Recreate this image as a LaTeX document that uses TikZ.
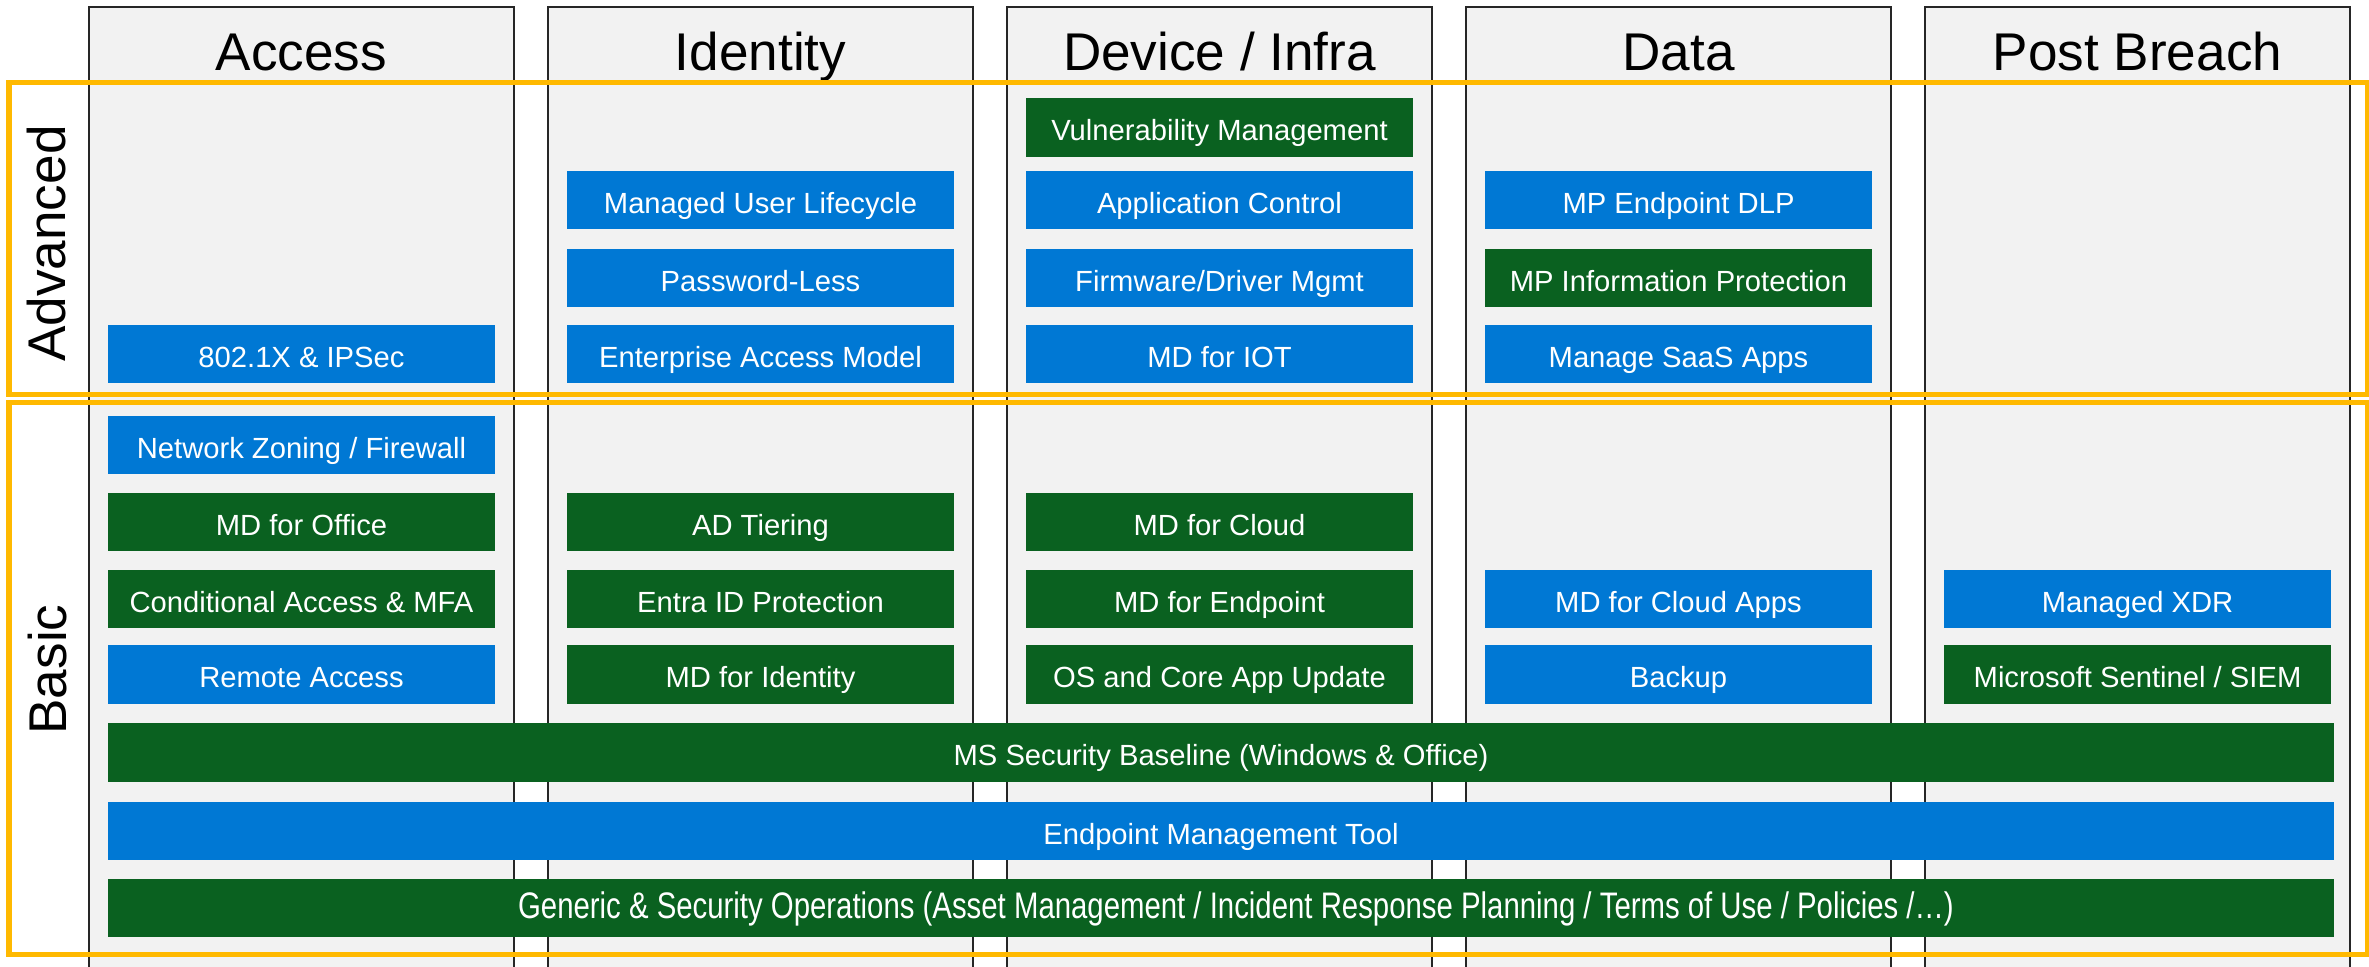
\documentclass[tikz,border=0pt]{standalone}
\usepackage{fontspec}
\setmainfont{Liberation Sans}
\definecolor{msblue}{RGB}{0,120,212}
\definecolor{msgreen}{RGB}{10,97,32}
\definecolor{colgray}{RGB}{242,242,242}
\definecolor{frameorange}{RGB}{255,185,0}
\begin{document}
\begin{tikzpicture}[x=0.01cm,y=-0.01cm,
  bluebox/.style={fill=msblue,text=white,minimum width=3.86cm,minimum height=0.585cm,inner sep=0pt,
    text height=7.4pt,text depth=0pt,font=\fontsize{8.3}{10}\selectfont},
  greenbox/.style={bluebox,fill=msgreen},
  widebox/.style={minimum width=22.24cm},
  coltitle/.style={font=\fontsize{15.1}{18}\selectfont,anchor=base,inner sep=0pt},
  levelframe/.style={draw=frameorange,line width=0.05cm}]
  \useasboundingbox (0,0) rectangle (2369,966);
  \clip (0,0) rectangle (2369,966);
  \pgfmathsetmacro{\colleft}{89}
  \pgfmathsetmacro{\colw}{425}
  \pgfmathsetmacro{\pas}{459}
  \pgfmathsetmacro{\cx}{\colleft+\colw/2}
  \pgfmathsetmacro{\advA}{127.5}
  \pgfmathsetmacro{\advB}{200}
  \pgfmathsetmacro{\advC}{278}
  \pgfmathsetmacro{\advD}{354}
  \pgfmathsetmacro{\basA}{445}
  \pgfmathsetmacro{\basB}{522}
  \pgfmathsetmacro{\basC}{599}
  \pgfmathsetmacro{\basD}{674.5}
  \foreach \i/\titre in {0/Access,1/Identity,2/{Device / Infra},3/Data,4/Post Breach} {
    \draw[fill=colgray,draw=black!85,line width=0.015cm] (\colleft+\i*\pas,7) rectangle (\colleft+\i*\pas+\colw,1000);
    \node[coltitle] (head\i) at (\cx+\i*\pas,70) {\titre};
  }
  \draw[levelframe] (9,82.7) rectangle (2367,394);
  \draw[levelframe] (9,402.5) rectangle (2367,954);
  \node[coltitle,rotate=90] (advanced) at (65,243.5) {Advanced};
  \node[coltitle,rotate=90] (basic) at (66,669.5) {Basic};
  \node[bluebox] (acc-ipsec) at (\cx,\advD) {802.1X \& IPSec};
  \node[bluebox] (acc-zoning) at (\cx,\basA) {Network Zoning / Firewall};
  \node[greenbox] (acc-office) at (\cx,\basB) {MD for Office};
  \node[greenbox] (acc-mfa) at (\cx,\basC) {Conditional Access \& MFA};
  \node[bluebox] (acc-remote) at (\cx,\basD) {Remote Access};
  \node[bluebox] (id-lifecycle) at (\cx+\pas,\advB) {Managed User Lifecycle};
  \node[bluebox] (id-pwless) at (\cx+\pas,\advC) {Password-Less};
  \node[bluebox] (id-eam) at (\cx+\pas,\advD) {Enterprise Access Model};
  \node[greenbox] (id-tiering) at (\cx+\pas,\basB) {AD Tiering};
  \node[greenbox] (id-protect) at (\cx+\pas,\basC) {Entra ID Protection};
  \node[greenbox] (id-mdi) at (\cx+\pas,\basD) {MD for Identity};
  \node[greenbox] (dev-vuln) at (\cx+2*\pas,\advA) {Vulnerability Management};
  \node[bluebox] (dev-appctl) at (\cx+2*\pas,\advB) {Application Control};
  \node[bluebox] (dev-fw) at (\cx+2*\pas,\advC) {Firmware/Driver Mgmt};
  \node[bluebox] (dev-iot) at (\cx+2*\pas,\advD) {MD for IOT};
  \node[greenbox] (dev-cloud) at (\cx+2*\pas,\basB) {MD for Cloud};
  \node[greenbox] (dev-mde) at (\cx+2*\pas,\basC) {MD for Endpoint};
  \node[greenbox] (dev-update) at (\cx+2*\pas,\basD) {OS and Core App Update};
  \node[bluebox] (data-dlp) at (\cx+3*\pas,\advB) {MP Endpoint DLP};
  \node[greenbox] (data-mip) at (\cx+3*\pas,\advC) {MP Information Protection};
  \node[bluebox] (data-saas) at (\cx+3*\pas,\advD) {Manage SaaS Apps};
  \node[bluebox] (data-mdca) at (\cx+3*\pas,\basC) {MD for Cloud Apps};
  \node[bluebox] (data-backup) at (\cx+3*\pas,\basD) {Backup};
  \node[bluebox] (pb-xdr) at (\cx+4*\pas,\basC) {Managed XDR};
  \node[greenbox] (pb-siem) at (\cx+4*\pas,\basD) {Microsoft Sentinel / SIEM};
  \node[greenbox,widebox] (baseline) at (1221,752.5) {MS Security Baseline (Windows \& Office)};
  \node[bluebox,widebox] (epm) at (1221,831) {Endpoint Management Tool};
  \node[greenbox,widebox,text height=6.1pt] (secops) at (1221,908) {\hspace*{0.3cm}\scalebox{0.795}[1]{\fontsize{10.5}{12}\selectfont Generic \& Security Operations (Asset Management / Incident Response Planning / Terms of Use / Policies /…)}};
\end{tikzpicture}
\end{document}
